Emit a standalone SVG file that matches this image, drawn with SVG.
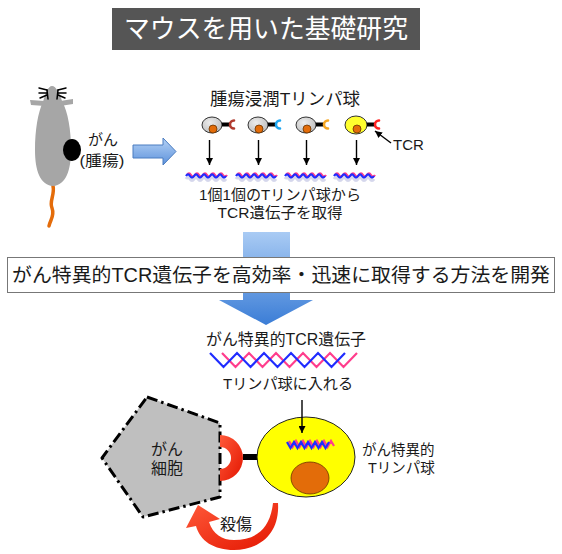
<svg xmlns="http://www.w3.org/2000/svg" width="562" height="554" viewBox="0 0 562 554">
  <style>
    .jp { font-family: "Liberation Sans", "Noto Sans CJK JP", sans-serif; fill: #1a1a1a; }
    .title { font-size: 26px; fill: #ffffff; }
    .cell { stroke: #333333; stroke-width: 1; }
    .nuc { fill: #e36c09; stroke: #6b3300; stroke-width: 0.8; }
    .stem { fill: #000000; }
    .tcr { fill: none; stroke-width: 2.6; stroke-linecap: round; }
    .thin { stroke: #000000; stroke-width: 1.4; fill: none; }
    .blue { fill: none; stroke: #1f2cff; stroke-width: 2.2; stroke-linejoin: miter; }
    .pink { fill: none; stroke: #ff3d8c; stroke-width: 2.2; stroke-linejoin: miter; }
    .shade { fill: none; stroke: #b9bde0; stroke-width: 3; opacity: 0.6; }
  </style>
  <defs>
    <marker id="ah" viewBox="0 0 10 10" refX="10" refY="5" markerWidth="7" markerHeight="7" markerUnits="userSpaceOnUse" orient="auto">
      <path d="M0,0 L10,5 L0,10 Z" fill="#000000"/>
    </marker>
    <linearGradient id="bigArrow" x1="0" y1="232" x2="0" y2="325" gradientUnits="userSpaceOnUse">
      <stop offset="0" stop-color="#a9cbf4"/>
      <stop offset="1" stop-color="#3b7dd6"/>
    </linearGradient>
    <linearGradient id="sideArrow" x1="0" y1="0" x2="0" y2="1">
      <stop offset="0" stop-color="#b5d2f5"/>
      <stop offset="1" stop-color="#5d92dc"/>
    </linearGradient>
    <linearGradient id="redGrad" x1="0" y1="0" x2="1" y2="1">
      <stop offset="0" stop-color="#ff5a3a"/>
      <stop offset="1" stop-color="#e31500"/>
    </linearGradient>
    <radialGradient id="grayCell" cx="0.4" cy="0.35" r="0.7">
      <stop offset="0" stop-color="#ececec"/>
      <stop offset="1" stop-color="#bdbdbd"/>
    </radialGradient>
    <!-- small wavy strand used below each T cell -->
    <path id="wave" d="M0,0 q2,-3.2 4,0 t4,0 t4,0 t4,0 t4,0 t4,0 t4,0 t4,0 t4,0 t4,0"/>
    <g id="strand">
      <use href="#wave" class="shade" transform="translate(0,3)"/>
      <use href="#wave" class="pink" transform="translate(1,-1)"/>
      <use href="#wave" class="blue"/>
    </g>
  </defs>

  <!-- heading -->
  <g id="title">
    <rect x="112" y="8" width="308" height="42" fill="#555555"/>
    <text x="266" y="38" class="jp title" text-anchor="middle" textLength="284" lengthAdjust="spacingAndGlyphs">マウスを用いた基礎研究</text>
  </g>

  <!-- mouse with tumour -->
  <g id="mouse">
    <path d="M53,186 C55,195 49,201 52,208 C55,216 50,220 49,226" fill="none" stroke="#e46c0a" stroke-width="3.5" stroke-linecap="round"/>
    <path d="M52,86 C56,86 60,94 62,101 C68,112 71,130 71,150 C71,170 66,185 53,186 C40,185 35,170 35,150 C35,130 38,112 43,102 C45,94 48,86 52,86 Z" fill="#a6a6a6"/>
    <path d="M30,100 L45,101 L60,101 L73,99 L73,104 L60,106 L45,106 L31,105 Z" fill="#a6a6a6"/>
    <g stroke="#000000" stroke-width="1.5" stroke-linecap="round">
      <line x1="39" y1="88" x2="47" y2="90"/>
      <line x1="39" y1="93" x2="47" y2="93"/>
      <line x1="40" y1="98" x2="47" y2="95"/>
      <line x1="58" y1="90" x2="66" y2="88"/>
      <line x1="58" y1="93" x2="66" y2="93"/>
      <line x1="58" y1="95" x2="65" y2="98"/>
      <line x1="47" y1="90" x2="48" y2="99"/>
      <line x1="58" y1="90" x2="57" y2="99"/>
    </g>
    <ellipse cx="72" cy="150" rx="9" ry="11" fill="#000000"/>
    <text x="103" y="145" class="jp" font-size="15" text-anchor="middle">がん</text>
    <text x="102" y="166" class="jp" font-size="15" text-anchor="middle" textLength="45" lengthAdjust="spacingAndGlyphs">(腫瘍)</text>
  </g>

  <g id="sideArrowNode">
    <path d="M133,145 H163 V138 L176,151.5 L163,165 V158 H133 Z" fill="url(#sideArrow)" stroke="#4a7cc0" stroke-width="1"/>
  </g>

  <!-- tumour infiltrating T cells -->
  <g id="tcells">
    <text x="285" y="105" class="jp" font-size="17" text-anchor="middle" textLength="150" lengthAdjust="spacingAndGlyphs">腫瘍浸潤Tリンパ球</text>
    <g id="cell1">
      <ellipse cx="212" cy="125" rx="10" ry="8" fill="url(#grayCell)" class="cell"/>
      <circle cx="213" cy="129" r="4" class="nuc"/>
      <rect x="222" y="122.5" width="8" height="4" class="stem"/>
      <path d="M234,120.5 A4,4 0 0 0 234,128.5" class="tcr" stroke="#b03a2e"/>
    </g>
    <g id="cell2">
      <ellipse cx="258" cy="125" rx="10" ry="8" fill="url(#grayCell)" class="cell"/>
      <circle cx="259" cy="129" r="4" class="nuc"/>
      <rect x="268" y="122.5" width="8" height="4" class="stem"/>
      <path d="M280,120.5 A4,4 0 0 0 280,128.5" class="tcr" stroke="#1fa6f0"/>
    </g>
    <g id="cell3">
      <ellipse cx="306" cy="125" rx="10" ry="8" fill="url(#grayCell)" class="cell"/>
      <circle cx="307" cy="129" r="4" class="nuc"/>
      <rect x="316" y="122.5" width="8" height="4" class="stem"/>
      <path d="M328,120.5 A4,4 0 0 0 328,128.5" class="tcr" stroke="#f5a623"/>
    </g>
    <g id="cell4">
      <ellipse cx="356" cy="125" rx="11" ry="9" fill="#ffff2e" class="cell"/>
      <circle cx="357" cy="129" r="4" class="nuc"/>
      <rect x="367" y="122.5" width="8" height="4" class="stem"/>
      <path d="M379,120.5 A4,4 0 0 0 379,128.5" class="tcr" stroke="#ff2222"/>
    </g>
    <text x="393" y="150" class="jp" font-size="15">TCR</text>
  </g>

  <!-- TCR genes taken from each cell -->
  <g id="genes">
    <use href="#strand" transform="translate(186,176)"/>
    <use href="#strand" transform="translate(236,176)"/>
    <use href="#strand" transform="translate(285,176)"/>
    <use href="#strand" transform="translate(334,176)"/>
    <text x="280" y="200" class="jp" font-size="15" text-anchor="middle" textLength="162" lengthAdjust="spacingAndGlyphs">1個1個のTリンパ球から</text>
    <text x="280" y="218" class="jp" font-size="15" text-anchor="middle" textLength="125" lengthAdjust="spacingAndGlyphs">TCR遺伝子を取得</text>
  </g>

  <!-- method banner over the big arrow -->
  <g id="bigArrowNode">
    <path d="M243,232 H290 V300 H313 L266,325 L219,300 H243 Z" fill="url(#bigArrow)"/>
  </g>
  <g id="method">
    <rect x="7.5" y="257.5" width="547" height="35" fill="#ffffff" stroke="#777777" stroke-width="1"/>
    <text x="281" y="282" class="jp" font-size="19.5" text-anchor="middle" textLength="538" lengthAdjust="spacingAndGlyphs">がん特異的TCR遺伝子を高効率・迅速に取得する方法を開発</text>
  </g>

  <!-- cancer specific TCR gene -->
  <g id="specificGene">
    <text x="286" y="345" class="jp" font-size="16" text-anchor="middle" textLength="160" lengthAdjust="spacingAndGlyphs">がん特異的TCR遺伝子</text>
    <polyline class="pink" points="222,353 235.5,367 249,353 262.5,367 276,353 289.5,367 303,353 316.5,367 330,353 343.5,367 357,353"/>
    <polyline class="blue" points="210,353 223.5,367 237,353 250.5,367 264,353 277.5,367 291,353 304.5,367 318,353 331.5,367 345,353"/>
    <text x="288" y="389" class="jp" font-size="15" text-anchor="middle" textLength="130" lengthAdjust="spacingAndGlyphs">Tリンパ球に入れる</text>
  </g>

  <!-- cancer cell -->
  <g id="cancerCell">
    <polygon points="147,397 220,423 220,497 143,517 102,458" fill="#bfbfbf" stroke="#000000" stroke-width="3" stroke-dasharray="11 4 2.5 4" stroke-linejoin="round"/>
    <text x="167" y="455" class="jp" font-size="16" text-anchor="middle">がん</text>
    <text x="167" y="474" class="jp" font-size="16" text-anchor="middle">細胞</text>
  </g>

  <!-- cancer specific T cell -->
  <g id="specificTcell">
    <path d="M220,435 A23,23 0 0 1 220,481 L220,469 A11,11 0 0 0 220,447 Z" fill="url(#redGrad)"/>
    <rect x="243" y="454" width="15" height="6" fill="#000000"/>
    <ellipse cx="306" cy="457" rx="49" ry="40" fill="#ffff00" stroke="#222222" stroke-width="1"/>
    <ellipse cx="310" cy="478" rx="19" ry="16" class="nuc"/>
    <polyline class="pink" stroke-width="1.8" points="289,441 292.5,447 296,441 299.5,447 303,441 306.5,447 310,441 313.5,447 317,441 320.5,447 324,441 327.5,447 331,441 334,446"/>
    <polyline class="blue" stroke-width="1.8" points="287,442 290.5,448 294,442 297.5,448 301,442 304.5,448 308,442 311.5,448 315,442 318.5,448 322,442 325.5,448 329,442"/>
    <text x="362" y="455" class="jp" font-size="14.5">がん特異的</text>
    <text x="368" y="473" class="jp" font-size="14.5">Tリンパ球</text>
  </g>

  <!-- killing -->
  <g id="killing">
    <path d="M278,503 C280,535 258,550 234,550 C214,550 200,541 196,526 L186,528 L198,505 L220,519 L209,522 C213,534 222,540 234,540 C255,540 270,530 273,503 Z" fill="url(#redGrad)"/>
    <text x="236" y="530" class="jp" font-size="16" text-anchor="middle">殺傷</text>
  </g>

  <!-- connectors -->
  <g id="connectors">
    <line x1="209.5" y1="140" x2="209.5" y2="165" class="thin" marker-end="url(#ah)"/>
    <line x1="258.5" y1="140" x2="258.5" y2="165" class="thin" marker-end="url(#ah)"/>
    <line x1="306.5" y1="140" x2="306.5" y2="165" class="thin" marker-end="url(#ah)"/>
    <line x1="356.5" y1="140" x2="356.5" y2="165" class="thin" marker-end="url(#ah)"/>
    <line x1="391" y1="143" x2="375" y2="131" class="thin" marker-end="url(#ah)"/>
    <line x1="302" y1="400" x2="302" y2="433" class="thin" marker-end="url(#ah)"/>
  </g>
</svg>
